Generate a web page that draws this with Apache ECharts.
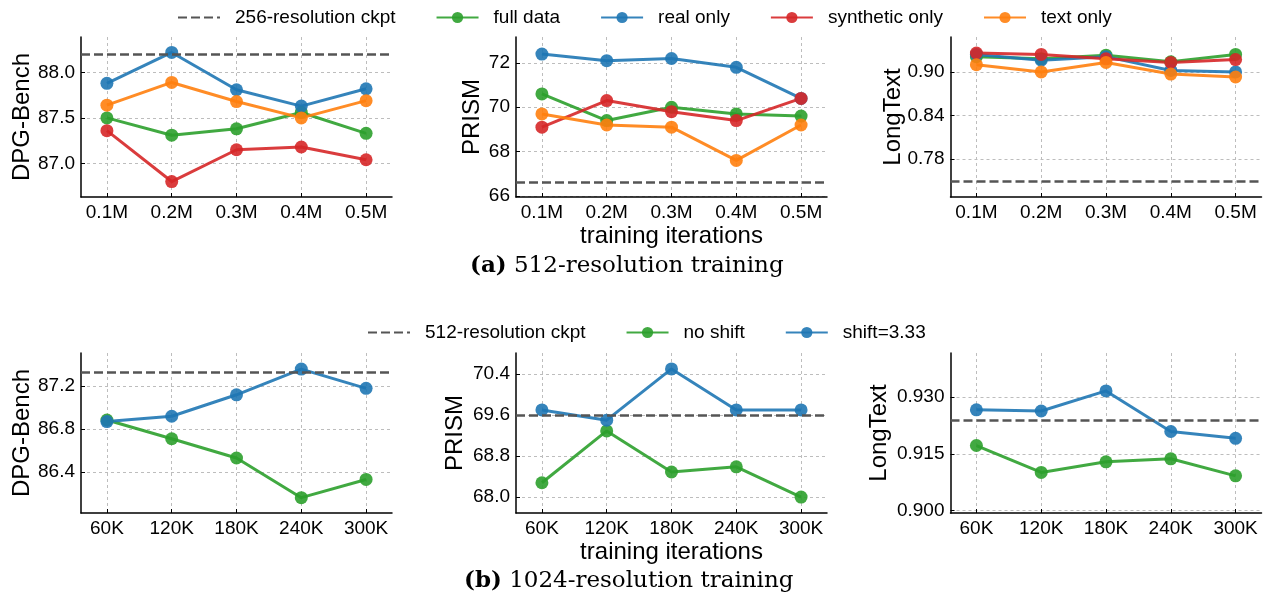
<!DOCTYPE html>
<html>
<head>
<meta charset="utf-8">
<script src="https://cdn.jsdelivr.net/npm/echarts@6/dist/echarts.min.js"></script>
<style>
  html, body { margin: 0; padding: 0; background: #fff; }
  #main { width: 1271px; height: 602px; }
</style>
</head>
<body>
<div id="main"></div>
<script>
// x tick labels
var iters512  = ['0.1M', '0.2M', '0.3M', '0.4M', '0.5M'];
var iters1024 = ['60K', '120K', '180K', '240K', '300K'];

// (a) 512-resolution training
var dpgFull  = [87.50, 87.31, 87.38, 87.56, 87.33];
var dpgReal  = [87.88, 88.22, 87.81, 87.63, 87.82];
var dpgSyn   = [87.36, 86.80, 87.15, 87.18, 87.04];
var dpgText  = [87.64, 87.89, 87.68, 87.50, 87.69];
var dpgCkpt256 = 88.20;

var prismFull = [70.6, 69.4, 70.0, 69.7, 69.6];
var prismReal = [72.4, 72.1, 72.2, 71.8, 70.4];
var prismSyn  = [69.1, 70.3, 69.8, 69.4, 70.4];
var prismText = [69.7, 69.2, 69.1, 67.6, 69.2];
var prismCkpt256 = 66.6;

var ltFull = [0.921, 0.918, 0.923, 0.914, 0.924];
var ltReal = [0.924, 0.916, 0.921, 0.902, 0.900];
var ltSyn  = [0.926, 0.924, 0.918, 0.913, 0.917];
var ltText = [0.910, 0.900, 0.913, 0.897, 0.893];
var ltCkpt256 = 0.749;

// (b) 1024-resolution training
var dpgNoShift = [86.885, 86.71, 86.53, 86.16, 86.33];
var dpgShift   = [86.87, 86.92, 87.12, 87.36, 87.18];
var dpgCkpt512 = 87.33;

var prismNoShift = [68.28, 69.29, 68.49, 68.59, 68.00];
var prismShift   = [69.70, 69.50, 70.50, 69.70, 69.70];
var prismCkpt512 = 69.595;

var ltNoShift = [0.9172, 0.9101, 0.9129, 0.9137, 0.9092];
var ltShift   = [0.9266, 0.9263, 0.9316, 0.9209, 0.9191];
var ltCkpt512 = 0.9238;

// y tick labels per panel
var yTicksA = [[87.0, 87.5, 88.0], [66, 68, 70, 72], [0.78, 0.84, 0.90]];
var yTicksB = [[86.4, 86.8, 87.2], [68.0, 68.8, 69.6, 70.4], [0.900, 0.915, 0.930]];

var GREEN  = '#2ca02c';
var BLUE   = '#1f77b4';
var RED    = '#d62728';
var ORANGE = '#ff7f0e';
var CKPT   = '#555555';
var FONT   = 'Liberation Sans';
var SERIF  = 'DejaVu Serif';

var idx = [0, 1, 2, 3, 4];

// one entry per panel, row (a) then row (b)
var panels = [
    {left: 81,    top: 37,  labels: iters512,  ticks: yTicksA[0], min: 86.63,  max: 88.39,  dec: 1, name: 'DPG-Bench', gap: 47},
    {left: 516,   top: 37,  labels: iters512,  ticks: yTicksA[1], min: 65.95,  max: 73.17,  dec: 0, name: 'PRISM',     gap: 32, xname: true},
    {left: 950.5, top: 37,  labels: iters512,  ticks: yTicksA[2], min: 0.728,  max: 0.948,  dec: 2, name: 'LongText',  gap: 45},
    {left: 81,    top: 353, labels: iters1024, ticks: yTicksB[0], min: 86.017, max: 87.51,  dec: 1, name: 'DPG-Bench', gap: 47},
    {left: 516,   top: 353, labels: iters1024, ticks: yTicksB[1], min: 67.69,  max: 70.81,  dec: 1, name: 'PRISM',     gap: 49, xname: true},
    {left: 950.5, top: 353, labels: iters1024, ticks: yTicksB[2], min: 0.8994, max: 0.9416, dec: 3, name: 'LongText',  gap: 59}
];

var splitLine = {show: true, lineStyle: {color: '#bdbdbd', width: 1, type: [3, 3]}};
var axisLine  = {show: true, onZero: false, lineStyle: {color: '#000', width: 1.5}};

var grids = [], xAxes = [], yAxes = [];
panels.forEach(function (p, i) {
    grids.push({left: p.left, top: p.top, width: 311, height: 160, containLabel: false});
    xAxes.push({
        type: 'value', gridIndex: i, min: -0.4, max: 4.4,
        name: p.xname ? 'training iterations' : '',
        nameLocation: 'middle', nameGap: 27,
        nameTextStyle: {fontSize: 24, color: '#000', fontFamily: FONT},
        axisLine: axisLine,
        axisTick: {show: true, inside: true, length: 4, customValues: idx, lineStyle: {color: '#000'}},
        axisLabel: {
            customValues: idx, margin: 6, fontSize: 19, color: '#000', fontFamily: FONT,
            formatter: (function (labels) { return function (v) { return labels[Math.round(v)]; }; })(p.labels)
        },
        splitLine: splitLine
    });
    yAxes.push({
        type: 'value', gridIndex: i, min: p.min, max: p.max,
        name: p.name, nameLocation: 'middle', nameGap: p.gap, nameMoveOverlap: false,
        nameTextStyle: {fontSize: 24, color: '#000', fontFamily: FONT},
        axisLine: axisLine,
        axisTick: {show: true, inside: true, length: 4, customValues: p.ticks, lineStyle: {color: '#000'}},
        axisLabel: {
            customValues: p.ticks, margin: 6, fontSize: 19, color: '#000', fontFamily: FONT,
            formatter: (function (d) { return function (v) { return v.toFixed(d); }; })(p.dec)
        },
        splitLine: splitLine
    });
});

function pts(vals) {
    return vals.map(function (v, i) { return [i, v]; });
}

function lineSeries(name, color, vals, gi) {
    return {
        name: name, type: 'line', xAxisIndex: gi, yAxisIndex: gi,
        data: pts(vals), symbol: 'circle', symbolSize: 13,
        lineStyle: {color: color, width: 3, opacity: 0.9},
        itemStyle: {color: color, opacity: 0.9},
        emphasis: {disabled: true}
    };
}

// horizontal reference line for the lower-resolution checkpoint
function ckptSeries(name, val, gi) {
    return {
        name: name, type: 'line', xAxisIndex: gi, yAxisIndex: gi,
        data: [], symbol: 'none',
        lineStyle: {color: CKPT, width: 2.5, type: [9, 4]},
        itemStyle: {color: CKPT},
        markLine: {
            silent: true, symbol: ['none', 'none'], label: {show: false}, precision: 5,
            lineStyle: {color: CKPT, width: 2.5, type: [9, 4]},
            data: [{yAxis: val}]
        }
    };
}

var series = [];
[[dpgCkpt256, dpgFull, dpgReal, dpgSyn, dpgText],
 [prismCkpt256, prismFull, prismReal, prismSyn, prismText],
 [ltCkpt256, ltFull, ltReal, ltSyn, ltText]].forEach(function (s, gi) {
    series.push(ckptSeries('256-resolution ckpt', s[0], gi));
    series.push(lineSeries('full data', GREEN, s[1], gi));
    series.push(lineSeries('real only', BLUE, s[2], gi));
    series.push(lineSeries('synthetic only', RED, s[3], gi));
    series.push(lineSeries('text only', ORANGE, s[4], gi));
});
[[dpgCkpt512, dpgNoShift, dpgShift],
 [prismCkpt512, prismNoShift, prismShift],
 [ltCkpt512, ltNoShift, ltShift]].forEach(function (s, k) {
    var gi = k + 3;
    series.push(ckptSeries('512-resolution ckpt', s[0], gi));
    series.push(lineSeries('no shift', GREEN, s[1], gi));
    series.push(lineSeries('shift=3.33', BLUE, s[2], gi));
});

var legendText = {fontSize: 19, color: '#000', fontFamily: FONT, padding: [0, 0, 0, 10]};

var option = {
    animation: false,
    textStyle: {fontFamily: FONT},
    legend: [
        {
            left: 172, top: 3, itemWidth: 42, itemHeight: 14, itemGap: 40,
            textStyle: legendText, selectedMode: false,
            data: [
                {name: '256-resolution ckpt', itemStyle: {opacity: 0}, lineStyle: {type: [9, 4]}},
                'full data', 'real only', 'synthetic only', 'text only'
            ]
        },
        {
            left: 362, top: 318, itemWidth: 42, itemHeight: 14, itemGap: 40,
            textStyle: legendText, selectedMode: false,
            data: [
                {name: '512-resolution ckpt', itemStyle: {opacity: 0}, lineStyle: {type: [9, 4]}},
                'no shift', 'shift=3.33'
            ]
        }
    ],
    grid: grids,
    xAxis: xAxes,
    yAxis: yAxes,
    series: series,
    graphic: [
        {
            type: 'text', left: 470, top: 255,
            style: {
                text: '{b|(a)} 512-resolution training',
                font: '23px "' + SERIF + '"', fill: '#000',
                rich: {b: {fontWeight: 'bold', fontSize: 23, fontFamily: SERIF}}
            }
        },
        {
            type: 'text', left: 464, top: 570,
            style: {
                text: '{b|(b)} 1024-resolution training',
                font: '23px "' + SERIF + '"', fill: '#000',
                rich: {b: {fontWeight: 'bold', fontSize: 23, fontFamily: SERIF}}
            }
        }
    ]
};

var chart = echarts.init(document.getElementById('main'));
chart.setOption(option);
</script>
</body>
</html>
